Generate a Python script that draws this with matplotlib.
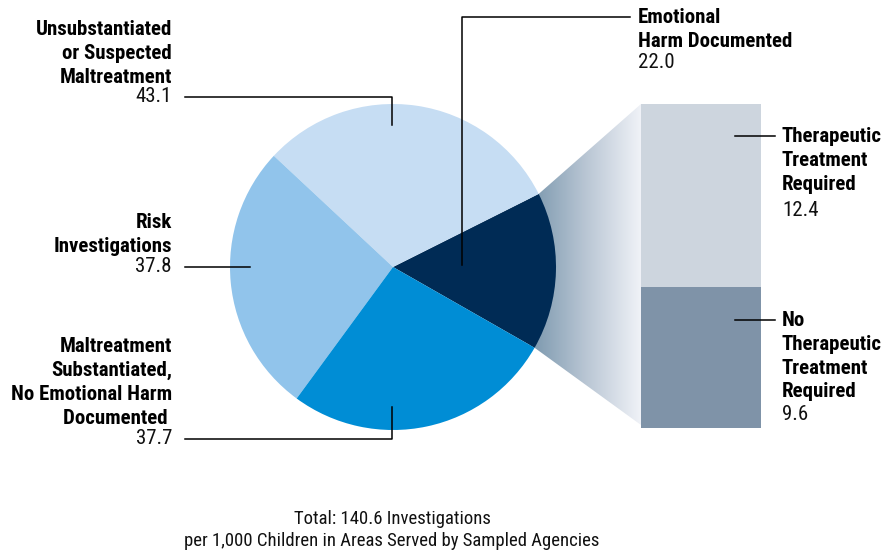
import numpy as np
import matplotlib.pyplot as plt
from matplotlib.patches import Polygon, Rectangle
from matplotlib.colors import LinearSegmentedColormap

# Donnees
categories = ["Emotional\nHarm Documented",
              "Unsubstantiated\nor Suspected\nMaltreatment",
              "Risk\nInvestigations",
              "Maltreatment\nSubstantiated,\nNo Emotional Harm\nDocumented "]
values = [22.0, 43.1, 37.8, 37.7]
pie_colors = ["#002B55", "#C6DDF3", "#91C4EB", "#008DD5"]

sub_categories = ["Therapeutic\nTreatment\nRequired",
                  "No\nTherapeutic\nTreatment\nRequired"]
sub_values = [12.4, 9.6]
sub_colors = ["#CDD5DE", "#7F93A8"]

total_text = "Total: 140.6 Investigations\nper 1,000 Children in Areas Served by Sampled Agencies"

# Police etroite (avec repli)
plt.rcParams['font.family'] = ['Roboto Condensed', 'Fira Sans Condensed',
                               'Archivo Narrow', 'DejaVu Sans']

W, H = 892, 552
fig = plt.figure(figsize=(W / 100, H / 100), dpi=100)
ax = fig.add_axes([0, 0, 1, 1])


def Y(py):
    # conversion pixel (haut) -> coordonnee
    return H - py


cx, cy, r = 393, Y(267), 163
start = -29.7

# Camembert
wedges, _ = ax.pie(values, colors=pie_colors, startangle=start, counterclock=True,
                   radius=r, center=(cx, cy), frame=True,
                   wedgeprops=dict(linewidth=0))
for w in wedges:
    w.set_zorder(3)

# Barre de detail
bx, bw = 641, 120
btop, bbot = 104, 428
hauteur = bbot - btop
tot_sub = sum(sub_values)
y_cur = Y(btop)
for v, c in zip(sub_values, sub_colors):
    h = hauteur * v / tot_sub
    ax.add_patch(Rectangle((bx, y_cur - h), bw, h, facecolor=c, edgecolor='none', zorder=3))
    y_cur -= h

# Connecteur en degrade
a1 = np.radians(start + values[0] / sum(values) * 360)
a0 = np.radians(start)
p_haut = (cx + r * np.cos(a1), cy + r * np.sin(a1))
p_bas = (cx + r * np.cos(a0), cy + r * np.sin(a0))
poly = Polygon([p_haut, (bx, Y(btop)), (bx, Y(bbot) + 3), p_bas, (cx, cy)],
               closed=True, facecolor='none', edgecolor='none')
ax.add_patch(poly)
cmap = LinearSegmentedColormap.from_list("deg", ["#7A97AD", "#B9C6D4", "#F1F3F8"])
grad = np.linspace(0, 1, 256).reshape(1, -1)
x0 = min(p_haut[0], p_bas[0]) - 5
im = ax.imshow(grad, cmap=cmap, extent=[x0, bx, Y(bbot), Y(btop)],
               aspect='auto', zorder=2, interpolation='bilinear')
im.set_clip_path(poly)
ax.set_xlim(0, W)
ax.set_ylim(0, H)
ax.set_aspect('equal')
ax.axis('off')

# Lignes de rappel
lc = dict(color='black', linewidth=1.1, zorder=5)
ax.plot([185, 392, 392], [Y(97), Y(97), Y(125)], **lc)
ax.plot([462, 462, 630], [Y(265), Y(17), Y(17)], **lc)
ax.plot([185, 250], [Y(267), Y(267)], **lc)
ax.plot([185, 392, 392], [Y(439), Y(439), Y(407)], **lc)
ax.plot([735, 775], [Y(136), Y(136)], **lc)
ax.plot([735, 775], [Y(320), Y(320)], **lc)

fs = 15
ls = 1.32
bold = dict(fontsize=fs, fontweight='bold', linespacing=ls, color='black')
reg = dict(fontsize=fs, color='#111111')

# Etiquettes gauche (alignees a droite)
ax.text(172, Y(87), categories[1], ha='right', va='bottom', **bold)
ax.text(172, Y(97), f"{values[1]:.1f}", ha='right', va='center', **reg)
ax.text(172, Y(256), categories[2], ha='right', va='bottom', **bold)
ax.text(172, Y(267), f"{values[2]:.1f}", ha='right', va='center', **reg)
ax.text(172, Y(428), categories[3], ha='right', va='bottom', **bold)
ax.text(172, Y(439), f"{values[3]:.1f}", ha='right', va='center', **reg)

# Etiquettes droite
ax.text(638, Y(8), categories[0], ha='left', va='top', **bold)
ax.text(638, Y(62), f"{values[0]:.1f}", ha='left', va='center', **reg)
ax.text(782, Y(127), sub_categories[0], ha='left', va='top', **bold)
ax.text(782, Y(210), f"{sub_values[0]:.1f}", ha='left', va='center', **reg)
ax.text(782, Y(311), sub_categories[1], ha='left', va='top', **bold)
ax.text(782, Y(415), f"{sub_values[1]:.1f}", ha='left', va='center', **reg)

# Total
ax.text(392, Y(530), total_text, ha='center', va='center', fontsize=13.5,
        linespacing=1.3, color='#111111')

fig.savefig("out.png", dpi=100)
